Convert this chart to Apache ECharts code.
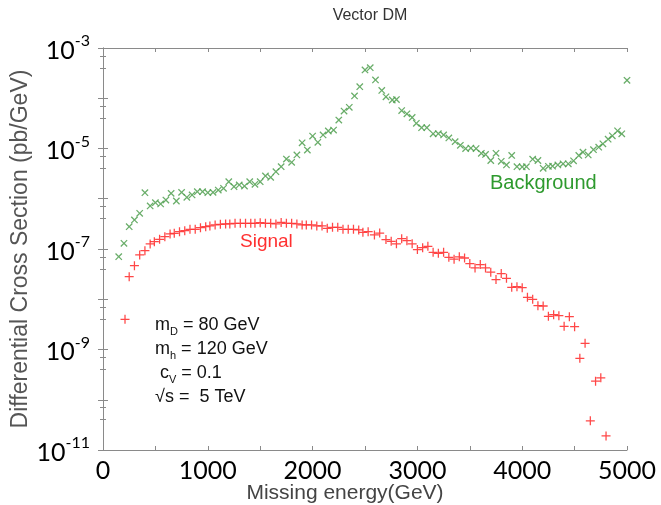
<!DOCTYPE html>
<html><head><meta charset="utf-8">
<script src="https://cdn.jsdelivr.net/npm/echarts@6/dist/echarts.min.js"></script>
<style>html,body{margin:0;padding:0;background:#fff}#c{width:661px;height:505px}</style>
</head><body><div id="c"></div>
<script>
// Background (green x) : missing energy (GeV) and differential cross section (pb/GeV)
const bgEnergy = [150,200,250,300,350,400,450,500,550,600,650,700,750,800,850,900,950,1000,1050,1100,1150,1200,1250,1300,1350,1400,1450,1500,1550,1600,1650,1700,
  1750,1800,1850,1900,1950,2000,2050,2100,2150,2200,2250,2300,2350,2400,2450,2500,2550,
  2600,2660,2700,2760,2800,2850,2900,2950,2990,3040,3090,3150,3200,3250,3300,3360,3410,3460,3510,3560,3610,3650,3700,3750,3800,3850,3900,3950,4000,4040,4100,4150,4200,4250,4290,4340,4390,4440,4490,4540,4580,4630,4680,4730,4770,4820,4860,4910,4950,5000];
const bgValues = [7.03e-8,1.30e-7,2.78e-7,3.78e-7,5.13e-7,1.32e-6,7.18e-7,8.34e-7,7.87e-7,9.44e-7,1.28e-6,9.02e-7,1.34e-6,1.07e-6,1.19e-6,1.38e-6,1.38e-6,1.32e-6,1.34e-6,1.49e-6,1.61e-6,2.18e-6,1.74e-6,1.88e-6,1.79e-6,2.18e-6,1.94e-6,2.18e-6,2.84e-6,2.67e-6,3.45e-6,4.35e-6,
  6.18e-6,5.31e-6,7.43e-6,1.30e-5,9.33e-6,1.77e-5,1.33e-5,1.86e-5,2.23e-5,2.33e-5,3.69e-5,5.57e-5,6.61e-5,1.11e-4,1.70e-4,3.65e-4,4.06e-4,
  2.31e-4,1.43e-4,1.07e-4,9.23e-5,9.44e-5,5.70e-5,4.91e-5,4.14e-5,3.17e-5,2.59e-5,2.59e-5,1.96e-5,1.97e-5,1.86e-5,1.62e-5,1.37e-5,1.16e-5,9.95e-6,1.02e-5,9.95e-6,8.02e-6,7.60e-6,5.77e-6,8.02e-6,5.56e-6,4.70e-6,7.26e-6,4.35e-6,4.29e-6,4.35e-6,6.12e-6,5.77e-6,4.04e-6,4.43e-6,4.45e-6,4.70e-6,4.96e-6,4.96e-6,5.69e-6,7.26e-6,8.44e-6,7.43e-6,9.46e-6,1.06e-5,1.24e-5,1.53e-5,1.79e-5,2.25e-5,1.96e-5,2.28e-4];
// Signal (red +)
const sigEnergy = [210,250,300,350,400,450,490,540,590,640,680,730,780,830,880,930,980,1020,1070,1120,1170,1210,1260,1310,1360,1410,1450,1500,1550,1600,1650,1700,1750,1800,1850,1900,1940,1990,2040,2090,2140,2190,2240,2290,2340,2390,2440,2480,2530,2590,2640,2700,2750,2800,2850,2900,2950,3000,3050,3100,3150,3200,3250,3300,3350,3400,3450,3500,3550,3600,3650,3700,3750,3800,3850,3900,3950,4000,4050,4100,4150,4200,4250,4300,4350,4400,4450,4500,4550,4600,4650,4700,4750,4800];
const sigValues = [3.99e-9,2.81e-8,4.66e-8,7.60e-8,9.25e-8,1.26e-7,1.40e-7,1.56e-7,1.76e-7,1.99e-7,2.05e-7,2.21e-7,2.31e-7,2.47e-7,2.47e-7,2.65e-7,2.78e-7,2.87e-7,3.01e-7,3.10e-7,3.15e-7,3.15e-7,3.24e-7,3.24e-7,3.24e-7,3.24e-7,3.24e-7,3.34e-7,3.24e-7,3.24e-7,3.15e-7,3.37e-7,3.24e-7,3.24e-7,3.15e-7,3.01e-7,3.01e-7,3.01e-7,2.87e-7,2.87e-7,2.58e-7,2.70e-7,2.70e-7,2.47e-7,2.47e-7,2.47e-7,2.39e-7,2.15e-7,2.21e-7,1.90e-7,2.08e-7,1.54e-7,1.42e-7,1.27e-7,1.60e-7,1.46e-7,1.27e-7,9.73e-8,1.06e-7,1.13e-7,8.59e-8,8.20e-8,8.59e-8,6.84e-8,6.27e-8,7.00e-8,6.62e-8,5.12e-8,4.19e-8,4.90e-8,4.19e-8,3.45e-8,2.46e-8,3.24e-8,2.61e-8,1.73e-8,1.78e-8,1.70e-8,1.09e-8,9.97e-9,7.45e-9,7.34e-9,4.58e-9,4.93e-9,4.71e-9,2.90e-9,4.50e-9,2.84e-9,6.68e-10,1.33e-9,3.81e-11,2.34e-10,2.73e-10,1.90e-11];
const xTickLabels = ['0','1000','2000','3000','4000','5000'];
const yTickExponents = [-3,-5,-7,-9,-11];

const plusPath = 'path://M4.3,0H5.7V4.3H10V5.7H5.7V10H4.3V5.7H0V4.3H4.3Z';
const frame = '#8a8a8a';
const chart = echarts.init(document.getElementById('c'));
const yLabelRich = {
  b:{fontSize:25,fontFamily:'Lato',color:'#000',lineHeight:30,verticalAlign:'bottom'},
  s:{fontSize:16,fontFamily:'Lato',color:'#000',lineHeight:17,verticalAlign:'top'}
};
chart.setOption({
  animation:false,
  title:{text:'Vector DM',left:365,top:3,textAlign:'center',textStyle:{fontFamily:'Liberation Sans',fontSize:16,fontWeight:'normal',color:'#333'}},
  grid:{left:103,right:34,top:48,bottom:55,containLabel:false,outerBoundsMode:'none'},
  xAxis:[{
    type:'value',min:0,max:5000,interval:500,
    axisLine:{lineStyle:{color:frame}},
    axisTick:{inside:true,length:4,lineStyle:{color:frame}},
    splitLine:{show:false},
    axisLabel:{margin:8,fontSize:25,fontFamily:'Lato',color:'#000',
      formatter:v=>{const s=String(v);return xTickLabels.indexOf(s)>=0?s:'';}},
    name:'Missing energy(GeV)',nameLocation:'middle',nameGap:33,nameMoveOverlap:false,
    nameTextStyle:{fontFamily:'Liberation Sans',fontSize:21,color:'#444',padding:[0,40,0,0]}
  },{
    type:'value',position:'top',min:0,max:5000,interval:500,
    axisLine:{lineStyle:{color:frame}},
    axisTick:{inside:true,length:4,lineStyle:{color:frame}},
    axisLabel:{show:false},splitLine:{show:false}
  }],
  yAxis:[{
    type:'log',logBase:10,min:1e-11,max:1e-3,splitNumber:8,
    axisLine:{lineStyle:{color:frame}},
    axisTick:{inside:true,length:5,lineStyle:{color:frame}},
    minorTick:{show:true,splitNumber:3,length:3,lineStyle:{color:frame}},
    splitLine:{show:false},
    axisLabel:{margin:13,rich:yLabelRich,
      formatter:v=>{const e=Math.round(Math.log10(v));return yTickExponents.indexOf(e)>=0?'{b|10}{s|'+e+'}':'';}},
    name:'Differential Cross Section (pb/GeV)',nameLocation:'middle',nameGap:71,nameMoveOverlap:false,
    nameTextStyle:{fontFamily:'Liberation Sans',fontSize:23,color:'#555'}
  },{
    type:'log',logBase:10,min:1e-11,max:1e-3,splitNumber:8,position:'right',
    axisLine:{lineStyle:{color:frame}},
    axisTick:{inside:true,length:5,lineStyle:{color:frame}},
    minorTick:{show:true,splitNumber:3,length:3,lineStyle:{color:frame}},
    axisLabel:{show:false},splitLine:{show:false}
  }],
  graphic:[
    {type:'text',left:490,top:173,style:{text:'Background',fill:'#2e9a2e',font:'20px "Liberation Sans"'}},
    {type:'text',left:240,top:232,style:{text:'Signal',fill:'#ff3030',font:'19px "Liberation Sans"'}},
    {type:'text',left:155,top:316,style:{
      text:'{m|m}{sub|D}{m| = 80 GeV}\n{m|m}{sub|h}{m| = 120 GeV}\n{m| c}{sub|V}{m| = 0.1}\n{m|√s =  5 TeV}',
      rich:{m:{fontSize:18,fontFamily:'Liberation Sans',fill:'#111',lineHeight:24,verticalAlign:'middle'},
            sub:{fontSize:11,fontFamily:'Liberation Sans',fill:'#111',lineHeight:24,verticalAlign:'bottom'}}}}
  ],
  series:[{
    name:'Background',type:'scatter',xAxisIndex:0,yAxisIndex:0,
    data:bgEnergy.map((e,i)=>[e,bgValues[i]]),
    symbol:plusPath,symbolSize:9,symbolRotate:45,
    itemStyle:{color:'#4f9f4f',opacity:0.85}
  },{
    name:'Signal',type:'scatter',xAxisIndex:0,yAxisIndex:0,
    data:sigEnergy.map((e,i)=>[e,sigValues[i]]),
    symbol:plusPath,symbolSize:9,
    itemStyle:{color:'#ff3333',opacity:0.9}
  }]
});
</script></body></html>
